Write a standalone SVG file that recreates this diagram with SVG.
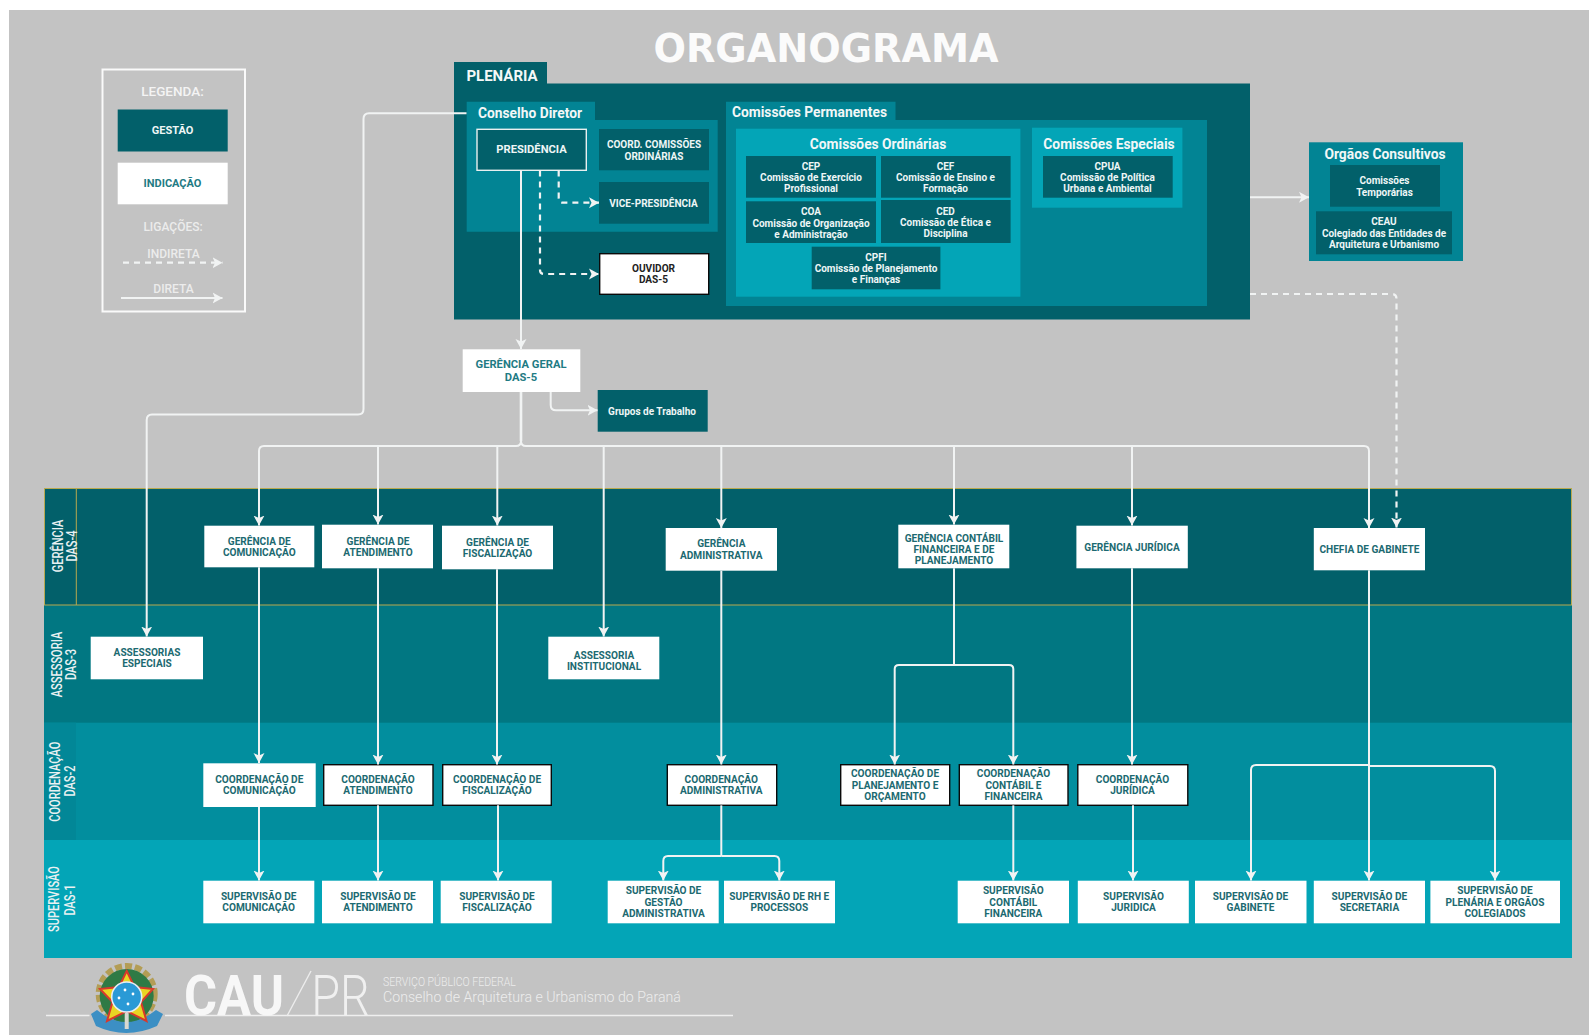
<svg xmlns="http://www.w3.org/2000/svg" width="1589" height="1035" viewBox="0 0 1589 1035">
<style>
text{font-family:Roboto,"Liberation Sans",sans-serif;text-anchor:middle;font-weight:700}
.w{fill:#fff;stroke:none}
.wb{fill:#fff;stroke:#0a0a0a;stroke-width:1.4}
.d{fill:#02606a}
.m{fill:#028494}
.l{fill:#03a5b7}
.n{font-size:10.1px;fill:#1c6a71}
.nw{font-size:10px;fill:#eef6f6}
.h{font-size:13.8px;fill:#f2f7f7}
.lg{font-size:11.5px;fill:#f4f4f4;font-weight:500}
.lane{font-size:14px;fill:#e9f1f2;font-weight:500}
.c{fill:none;stroke:#f1f3f3;stroke-width:2;marker-end:url(#a)}
.p{fill:none;stroke:#f1f3f3;stroke-width:2}
.x{fill:none;stroke:#f1f3f3;stroke-width:2.2;stroke-dasharray:6 5;marker-end:url(#a)}
.f{fill:#ededed;font-weight:300}
</style>
<defs>
<marker id="a" markerUnits="userSpaceOnUse" markerWidth="12" markerHeight="12" refX="10" refY="6" orient="auto">
<path d="M0,0.5 L10,6 L0,11.5 L2.5,6 Z" fill="#f1f3f3"/>
</marker>
</defs>
<rect x="9" y="10" width="1580" height="1025" fill="#c3c3c3"/>
<text id="title" x="826" y="62" style="font-family:'DejaVu Sans';font-weight:700;font-size:38.2px;fill:#fbfbfb">ORGANOGRAMA</text>

<g id="legenda">
<rect x="102.5" y="69.5" width="142.5" height="242" fill="none" stroke="#fafafa" stroke-width="2"/>
<text class="lg" x="172.5" y="96" style="font-size:13.5px">LEGENDA:</text>
<rect class="d" x="117.7" y="109.5" width="110" height="42"/>
<text class="nw" x="172.5" y="134" style="font-size:11px">GESTÃO</text>
<rect class="w" x="117.7" y="162.7" width="110" height="41.6"/>
<text class="n" x="172.5" y="187" style="font-size:11px;fill:#1f7b84">INDICAÇÃO</text>
<text class="lg" x="173" y="230.5" style="font-size:12px;fill:#ececec">LIGAÇÕES:</text>
<text class="lg" x="173.5" y="258" style="font-size:12px;fill:#ececec">INDIRETA</text>
<text class="lg" x="173.5" y="293" style="font-size:12px;fill:#ececec">DIRETA</text>
<path class="x" d="M123,262.7 H222.5"/>
<path class="c" d="M121,298 H222.5"/>
</g>

<g id="lanes">
<rect x="44" y="605" width="1528" height="118" fill="#017782"/>
<rect x="44" y="722.7" width="1528" height="117.3" fill="#028e9e"/>
<rect x="44" y="722.7" width="32" height="117.3" fill="#028797"/>
<rect x="44" y="840" width="1528" height="118" class="l"/>
<rect x="44.5" y="488.5" width="1527" height="116.5" class="d" stroke="#b8a94f" stroke-width="1"/>
<path d="M76.3,488.5 V605" stroke="#b8a94f" fill="none"/>
<text class="lane" transform="translate(63,546) rotate(-90) scale(.79,1)">GERÊNCIA</text>
<text class="lane" transform="translate(77,546) rotate(-90) scale(.79,1)">DAS-4</text>
<text class="lane" transform="translate(61.5,664.5) rotate(-90) scale(.79,1)">ASSESSORIA</text>
<text class="lane" transform="translate(76,664.5) rotate(-90) scale(.79,1)">DAS-3</text>
<text class="lane" transform="translate(60,781.7) rotate(-90) scale(.79,1)">COORDENAÇÃO</text>
<text class="lane" transform="translate(75,781) rotate(-90) scale(.79,1)">DAS-2</text>
<text class="lane" transform="translate(59,899) rotate(-90) scale(.79,1)">SUPERVISÃO</text>
<text class="lane" transform="translate(75,900) rotate(-90) scale(.79,1)">DAS-1</text>
</g>

<g id="plenaria">
<path class="d" d="M454,62 H547 V83.5 H1250 V319.5 H454 Z"/>
<text x="502" y="81" style="font-size:15px;fill:#f4f8f8">PLENÁRIA</text>
</g>
<g id="conselho-diretor">
<path class="m" d="M466.7,101.7 H595 V120 H717.7 V231.7 H466.7 Z"/>
<text class="h" x="530" y="118">Conselho Diretor</text>
</g>
<g id="presidencia">
<rect class="d" x="477" y="129.3" width="109.3" height="41" stroke="#e8f0f0" stroke-width="1.4"/>
<text class="nw" x="531.5" y="153" style="font-size:11.2px">PRESIDÊNCIA</text>
</g>
<g id="coord-comissoes">
<rect class="d" x="599" y="129" width="110" height="41.3"/>
<text class="nw" x="654" y="147.5">COORD. COMISSÕES</text>
<text class="nw" x="654" y="159.5">ORDINÁRIAS</text>
</g>
<g id="vice-presidencia">
<rect class="d" x="599" y="182" width="110" height="41.7"/>
<text class="nw" x="653.5" y="206.5">VICE-PRESIDÊNCIA</text>
</g>
<g id="ouvidor">
<rect class="wb" x="599.7" y="253.7" width="109" height="40.6" stroke-width="1.4"/>
<text class="n" x="653.5" y="271.5" style="fill:#222">OUVIDOR</text>
<text class="n" x="653.5" y="283" style="fill:#222">DAS-5</text>
</g>

<g id="comissoes-permanentes">
<path class="m" d="M726,101.7 H895.5 V120 H1207 V306 H726 Z"/>
<text class="h" x="809.5" y="117">Comissões Permanentes</text>
</g>
<g id="comissoes-ordinarias">
<rect class="l" x="736" y="128.7" width="284.4" height="168"/>
<text class="h" x="878" y="149">Comissões Ordinárias</text>
</g>
<g id="cep">
<rect class="d" x="746" y="156" width="130" height="41.7"/>
<text class="nw" x="811" y="169.5">CEP</text><text class="nw" x="811" y="181">Comissão de Exercício</text><text class="nw" x="811" y="192">Profissional</text>
</g>
<g id="cef">
<rect class="d" x="881" y="156" width="129.6" height="41.7"/>
<text class="nw" x="945.5" y="169.5">CEF</text><text class="nw" x="945.5" y="180.5">Comissão de Ensino e</text><text class="nw" x="945.5" y="191.5">Formação</text>
</g>
<g id="coa">
<rect class="d" x="746" y="201.3" width="130" height="41.7"/>
<text class="nw" x="811" y="215">COA</text><text class="nw" x="811" y="226.5">Comissão de Organização</text><text class="nw" x="811" y="237.7">e Administração</text>
</g>
<g id="ced">
<rect class="d" x="881" y="200" width="129.6" height="43"/>
<text class="nw" x="945.5" y="214.5">CED</text><text class="nw" x="945.5" y="225.7">Comissão de Ética e</text><text class="nw" x="945.5" y="237">Disciplina</text>
</g>
<g id="cpfi">
<rect class="d" x="811.7" y="246.7" width="128.7" height="42.6"/>
<text class="nw" x="876" y="260.5">CPFI</text><text class="nw" x="876" y="271.7">Comissão de Planejamento</text><text class="nw" x="876" y="283">e Finanças</text>
</g>
<g id="comissoes-especiais">
<rect class="l" x="1032" y="127.7" width="150.4" height="80"/>
<text class="h" x="1109" y="149">Comissões Especiais</text>
</g>
<g id="cpua">
<rect class="d" x="1043" y="156" width="129.7" height="41.7"/>
<text class="nw" x="1107.5" y="169.7">CPUA</text><text class="nw" x="1107.5" y="181">Comissão de Política</text><text class="nw" x="1107.5" y="192">Urbana e Ambiental</text>
</g>
<g id="orgaos-consultivos">
<rect x="1309" y="142.3" width="154" height="118.7" class="m"/>
<text class="h" x="1385" y="159">Orgãos Consultivos</text>
</g>
<g id="comissoes-temporarias">
<rect class="d" x="1330" y="165" width="110" height="41.7"/>
<text class="nw" x="1384.5" y="183.5">Comissões</text><text class="nw" x="1384.5" y="195.5">Temporárias</text>
</g>
<g id="ceau">
<rect class="d" x="1316" y="211.3" width="136" height="43"/>
<text class="nw" x="1384" y="224.7">CEAU</text><text class="nw" x="1384" y="236.5">Colegiado das Entidades de</text><text class="nw" x="1384" y="248">Arquitetura e Urbanismo</text>
</g>

<g id="gerencia-geral">
<rect class="w" x="462.7" y="349.3" width="117.6" height="42.7"/>
<text class="n" x="521" y="367.5" style="font-size:11.2px;fill:#1f7b84">GERÊNCIA GERAL</text>
<text class="n" x="521" y="380.5" style="font-size:11.2px;fill:#1f7b84">DAS-5</text>
</g>
<g id="grupos-trabalho">
<rect class="d" x="597.7" y="390" width="110" height="41.7"/>
<text class="nw" x="652" y="414.5">Grupos de Trabalho</text>
</g>

<g id="g-comunicacao"><rect class="w" x="204.3" y="525.7" width="110" height="41.6"/><text class="n" x="259.3" y="544.5">GERÊNCIA DE</text><text class="n" x="259.3" y="556.3">COMUNICAÇÃO</text></g>
<g id="g-atendimento"><rect class="w" x="322" y="524.7" width="111" height="43.6"/><text class="n" x="378" y="544.5">GERÊNCIA DE</text><text class="n" x="378" y="556.3">ATENDIMENTO</text></g>
<g id="g-fiscalizacao"><rect class="w" x="442" y="525.7" width="111" height="43.6"/><text class="n" x="497.5" y="545.5">GERÊNCIA DE</text><text class="n" x="497.5" y="557.3">FISCALIZAÇÃO</text></g>
<g id="g-administrativa"><rect class="w" x="665.7" y="528" width="111.3" height="42.7"/><text class="n" x="721.3" y="546.5">GERÊNCIA</text><text class="n" x="721.3" y="558.5">ADMINISTRATIVA</text></g>
<g id="g-contabil"><rect class="w" x="898.3" y="524.7" width="111" height="43.6"/><text class="n" x="954" y="541.5">GERÊNCIA CONTÁBIL</text><text class="n" x="954" y="553">FINANCEIRA E DE</text><text class="n" x="954" y="564">PLANEJAMENTO</text></g>
<g id="g-juridica"><rect class="w" x="1076.4" y="525.7" width="111.4" height="42.6"/><text class="n" x="1132" y="550.5">GERÊNCIA JURÍDICA</text></g>
<g id="chefia-gabinete"><rect class="w" x="1313.8" y="528" width="111.2" height="42.3"/><text class="n" x="1369.4" y="553">CHEFIA DE GABINETE</text></g>

<g id="assessorias-especiais"><rect class="w" x="90.7" y="636.7" width="112.3" height="42.6"/><text class="n" x="147" y="655.5">ASSESSORIAS</text><text class="n" x="147" y="667.3">ESPECIAIS</text></g>
<g id="assessoria-institucional"><rect class="w" x="548.3" y="636.7" width="111" height="42.6"/><text class="n" x="604" y="658.5">ASSESSORIA</text><text class="n" x="604" y="670.3">INSTITUCIONAL</text></g>

<g id="c-comunicacao"><rect class="w" x="203.3" y="763.3" width="112.4" height="43.7"/><text class="n" x="259.3" y="782.5">COORDENAÇÃO DE</text><text class="n" x="259.3" y="794.3">COMUNICAÇÃO</text></g>
<g id="c-atendimento"><rect class="wb" x="323.7" y="764.7" width="109.3" height="40.6"/><text class="n" x="378" y="782.5">COORDENAÇÃO</text><text class="n" x="378" y="794.3">ATENDIMENTO</text></g>
<g id="c-fiscalizacao"><rect class="wb" x="442.7" y="764.7" width="108.6" height="40.6"/><text class="n" x="497" y="782.5">COORDENAÇÃO DE</text><text class="n" x="497" y="794.3">FISCALIZAÇÃO</text></g>
<g id="c-administrativa"><rect class="wb" x="667.3" y="764.7" width="109.4" height="40.6"/><text class="n" x="721.3" y="782.5">COORDENAÇÃO</text><text class="n" x="721.3" y="794.3">ADMINISTRATIVA</text></g>
<g id="c-planejamento"><rect class="wb" x="840.7" y="764.7" width="109" height="40.6"/><text class="n" x="895" y="777">COORDENAÇÃO DE</text><text class="n" x="895" y="788.5">PLANEJAMENTO E</text><text class="n" x="895" y="799.5">ORÇAMENTO</text></g>
<g id="c-contabil"><rect class="wb" x="959.3" y="764.7" width="108.7" height="40.6"/><text class="n" x="1013.5" y="777">COORDENAÇÃO</text><text class="n" x="1013.5" y="788.5">CONTÁBIL E</text><text class="n" x="1013.5" y="799.5">FINANCEIRA</text></g>
<g id="c-juridica"><rect class="wb" x="1077.8" y="764.7" width="110" height="40.6"/><text class="n" x="1132.5" y="782.5">COORDENAÇÃO</text><text class="n" x="1132.5" y="794.3">JURÍDICA</text></g>

<g id="s-comunicacao"><rect class="w" x="203.3" y="880.7" width="111" height="42.6"/><text class="n" x="258.7" y="899.5">SUPERVISÃO DE</text><text class="n" x="258.7" y="911.3">COMUNICAÇÃO</text></g>
<g id="s-atendimento"><rect class="w" x="322" y="880.7" width="111" height="42.6"/><text class="n" x="378" y="899.5">SUPERVISÃO DE</text><text class="n" x="378" y="911.3">ATENDIMENTO</text></g>
<g id="s-fiscalizacao"><rect class="w" x="440.7" y="880.7" width="111" height="42.6"/><text class="n" x="497" y="899.5">SUPERVISÃO DE</text><text class="n" x="497" y="911.3">FISCALIZAÇÃO</text></g>
<g id="s-gestao"><rect class="w" x="607.7" y="880.7" width="111" height="42.6"/><text class="n" x="663.5" y="894">SUPERVISÃO DE</text><text class="n" x="663.5" y="905.5">GESTÃO</text><text class="n" x="663.5" y="916.5">ADMINISTRATIVA</text></g>
<g id="s-rh"><rect class="w" x="724" y="880.7" width="111" height="42.6"/><text class="n" x="779.3" y="899.5">SUPERVISÃO DE RH E</text><text class="n" x="779.3" y="911.3">PROCESSOS</text></g>
<g id="s-contabil"><rect class="w" x="957.7" y="880.7" width="111.3" height="42.6"/><text class="n" x="1013.3" y="894">SUPERVISÃO</text><text class="n" x="1013.3" y="905.5">CONTÁBIL</text><text class="n" x="1013.3" y="916.5">FINANCEIRA</text></g>
<g id="s-juridica"><rect class="w" x="1077.8" y="880.7" width="111" height="42.6"/><text class="n" x="1133.5" y="899.5">SUPERVISÃO</text><text class="n" x="1133.5" y="911.3">JURIDICA</text></g>
<g id="s-gabinete"><rect class="w" x="1195" y="880.7" width="111.5" height="42.6"/><text class="n" x="1250.5" y="899.5">SUPERVISÃO DE</text><text class="n" x="1250.5" y="911.3">GABINETE</text></g>
<g id="s-secretaria"><rect class="w" x="1313.8" y="880.7" width="111.2" height="42.6"/><text class="n" x="1369.4" y="899.5">SUPERVISÃO DE</text><text class="n" x="1369.4" y="911.3">SECRETARIA</text></g>
<g id="s-plenaria"><rect class="w" x="1430.4" y="880.7" width="129.6" height="42.6"/><text class="n" x="1495" y="894">SUPERVISÃO DE</text><text class="n" x="1495" y="905.5">PLENÁRIA E ORGÃOS</text><text class="n" x="1495" y="916.5">COLEGIADOS</text></g>

<g id="connectors">
<path class="x" d="M558.7,170.5 V198 Q558.7,202.7 563,202.7 H599"/>
<path class="x" d="M540,170.5 V270 Q540,274 544,274 H599"/>
<path class="c" d="M521,170.5 V349"/>
<path class="c" d="M550.7,392 V405 Q550.7,410.3 556,410.3 H597.5"/>
<path class="c" d="M1250,197.3 H1309"/>
<path class="x" d="M1250,294 H1391.5 Q1396.5,294 1396.5,299 V527.5"/>
<path class="c" d="M466.5,113.3 H369 Q363.5,113.3 363.5,119 V409 Q363.5,414.5 358,414.5 H152 Q146.7,414.5 146.7,420 V636.5"/>
<path class="p" style="stroke-width:2.6" d="M521,392 V441"/>
<path class="p" d="M521,441 Q521,446 516,446 H264 Q259,446 259,451"/>
<path class="p" d="M521,441 Q521,446 526,446 H1364 Q1369,446 1369,451"/>
<path class="c" d="M259,451 V525.5"/>
<path class="c" d="M378,446 V524.5"/>
<path class="c" d="M497.3,446 V525.5"/>
<path class="c" d="M603.7,446 V636.5"/>
<path class="c" d="M721.3,446 V528"/>
<path class="c" d="M954,446 V524.5"/>
<path class="c" d="M1132,446 V525.5"/>
<path class="c" d="M1369,451 V528"/>
<path class="c" d="M259,567.3 V763"/>
<path class="c" d="M378,568.3 V764.5"/>
<path class="c" d="M497,569.3 V764.5"/>
<path class="c" d="M721.3,570.7 V764.5"/>
<path class="c" d="M1132,568.3 V764.5"/>
<path class="c" d="M259,807 V880.5"/>
<path class="c" d="M378,805.3 V880.5"/>
<path class="c" d="M498,805.3 V880.5"/>
<path class="c" d="M1013.3,805.3 V880.5"/>
<path class="c" d="M1133,805.3 V880.5"/>
<path class="p" d="M954,568.3 V665"/>
<path class="c" d="M954,665 H899 Q894.7,665 894.7,669 V764.5"/>
<path class="c" d="M954,665 H1009 Q1013.3,665 1013.3,669 V764.5"/>
<path class="p" d="M721.3,805.3 V856"/>
<path class="c" d="M721.3,856 H668 Q663.3,856 663.3,861 V880.5"/>
<path class="c" d="M721.3,856 H774.5 Q779.3,856 779.3,861 V880.5"/>
<path class="c" d="M1369,570.3 V880.5"/>
<path class="c" d="M1369,765 H1256 Q1251,765 1251,770 V880.5"/>
<path class="c" d="M1369,766 H1490 Q1495,766 1495,771 V880.5"/>
</g>

<g id="rodape">
<path d="M46,1015.5 H89.5 M165,1015.5 H733" stroke="#efefef" stroke-width="1.6" fill="none"/>
<g id="brasao">
<circle cx="126.7" cy="994" r="28" fill="none" stroke="#b39d55" stroke-width="6" stroke-dasharray="7 3"/>
<circle cx="126.7" cy="996" r="27" fill="#2f7a45"/>
<path d="M91,1014 L97,1010 Q126,1034 156,1010 L163,1014 L157,1026 Q126,1040 96,1026 Z" fill="#3c8fc4"/>
<rect x="124.7" y="1008" width="4" height="21" fill="#d8d8d0"/>
<path d="M126.7,971 L134.5,987 L153,989 L141,1002 L146.5,1021 L126.7,1011 L107,1021 L112.5,1002 L100,989 L119,987 Z" fill="#e9d523" stroke="#d8392b" stroke-width="2"/>
<circle cx="126.7" cy="997" r="15" fill="#2a9ad6" stroke="#e8eef2" stroke-width="1.5"/>
<circle cx="125" cy="990" r="1.4" fill="#fff"/><circle cx="133" cy="994" r="1.4" fill="#fff"/><circle cx="119" cy="998" r="1.4" fill="#fff"/><circle cx="128" cy="1004" r="1.4" fill="#fff"/>
</g>
<text transform="translate(234,1015) scale(.92,1)" class="f" style="font-size:55px;font-weight:700;fill:#f7f7f7">CAU</text>
<path d="M287,1016 L311,971" stroke="#ededed" stroke-width="1.4" fill="none"/>
<text transform="translate(340.5,1015) scale(.85,1)" class="f" style="font-size:55px;font-weight:300;fill:#f0f0f0">PR</text>
<text transform="translate(383,986) scale(.81,1)" class="f" style="font-size:13px;text-anchor:start">SERVIÇO PÚBLICO FEDERAL</text>
<text transform="translate(383,1001.5) scale(.945,1)" class="f" style="font-size:15px;text-anchor:start">Conselho de Arquitetura e Urbanismo do Paraná</text>
</g>
</svg>
